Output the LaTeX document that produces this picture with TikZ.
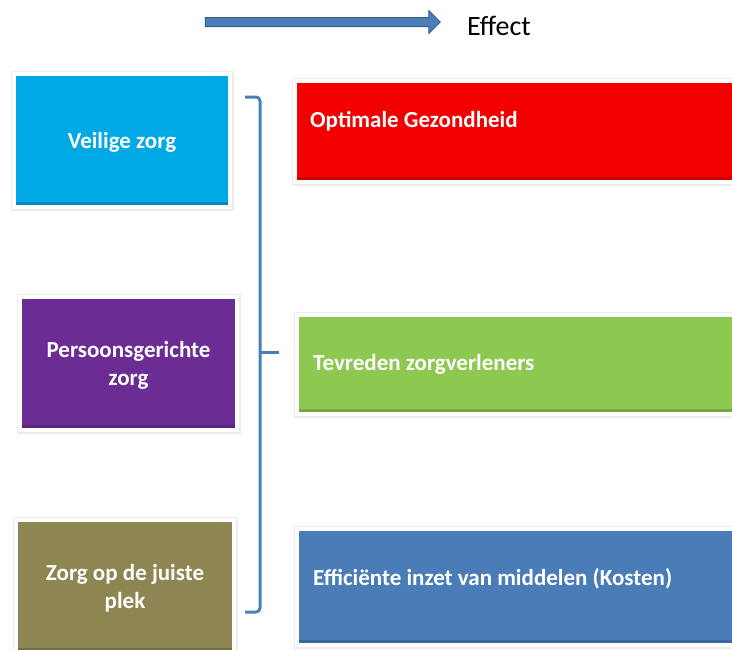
\documentclass[tikz,border=0pt]{standalone}
\usepackage{fontspec}
\setmainfont{Carlito}
\usetikzlibrary{positioning,arrows.meta,shapes.arrows}
\definecolor{inkblue}{HTML}{4A7EBB}
\definecolor{inkdark}{HTML}{385D8A}
\definecolor{boxcyan}{HTML}{00A8E6}
\definecolor{boxred}{HTML}{F20000}
\definecolor{boxpurple}{HTML}{6B2C94}
\definecolor{boxgreen}{HTML}{8DC850}
\definecolor{boxolive}{HTML}{8D8552}
\definecolor{boxblue}{HTML}{4A7CB8}
\tikzset{
  ez/.style={rectangle, draw=white, line width=4pt, inner sep=0pt, text=white, align=center,
             font=\fontsize{23}{28}\selectfont\bfseries,
             preaction={draw=black!7, line width=7pt},
             path picture={\fill[black, opacity=.16] (path picture bounding box.south west)
                           rectangle ([yshift=5.5pt]path picture bounding box.south east);}},
  ez cause/.style={ez, minimum width=217pt, minimum height=133pt, text depth=-3pt},
  ez effect/.style={ez, minimum width=485pt},
  ez lbl/.style={font=\fontsize{23}{28}\selectfont\bfseries, text=white, inner sep=0pt, anchor=base west},
  ez brace/.style={draw=inkblue, line width=3pt, rounded corners=4pt},
  ez arrow/.style={single arrow, draw=inkdark, fill=inkblue, line width=1pt, inner xsep=0pt, inner ysep=4pt,
                   single arrow head extend=7pt, single arrow head indent=0pt, minimum height=235pt},
}
\begin{document}
\begin{tikzpicture}[x=1pt, y=-1pt]
  \useasboundingbox (0,0) rectangle (732,649);
  \clip (0,0) rectangle (732,649);
  % header
  \node[ez arrow] (arr) at (320.5,22) {};
  \node[font=\fontsize{28}{32}\selectfont, inner sep=0pt, anchor=base west] (eff) at (467,35) {Effect};
  % left column: kinds of care
  \node[ez cause, fill=boxcyan, minimum width=216pt] (veilig) at (122,140.5) {Veilige zorg};
  \node[ez cause, fill=boxpurple] (persoon) at (128.5,363.5) {Persoonsgerichte\\zorg};
  \node[ez cause, fill=boxolive, minimum width=218pt] (plek) at (125,586.5) {Zorg op de juiste\\plek};
  % brace
  \coordinate (bt) at (245,97);
  \coordinate (bm) at (260,352);
  \coordinate (bb) at (245,612);
  \draw[ez brace] (bt) -- (bt -| bm) -- (bb -| bm) -- (bb);
  \draw[ez brace] (bm) -- ++(19,0);
  % right column: effects
  \node[ez effect, fill=boxred, minimum height=101pt] (gezond) at (537.5,131.5) {};
  \node[ez effect, fill=boxgreen, minimum height=99pt] (tevreden) at (539.5,364.5) {};
  \node[ez effect, fill=boxblue, minimum height=116pt] (kosten) at (539.5,587) {};
  \node[ez lbl] (gezondl) at (310,127) {Optimale Gezondheid};
  \node[ez lbl] (tevredenl) at (313,370) {Tevreden zorgverleners};
  \node[ez lbl] (kostenl) at (313,585) {Efficiënte inzet van middelen (Kosten)};
\end{tikzpicture}
\end{document}
